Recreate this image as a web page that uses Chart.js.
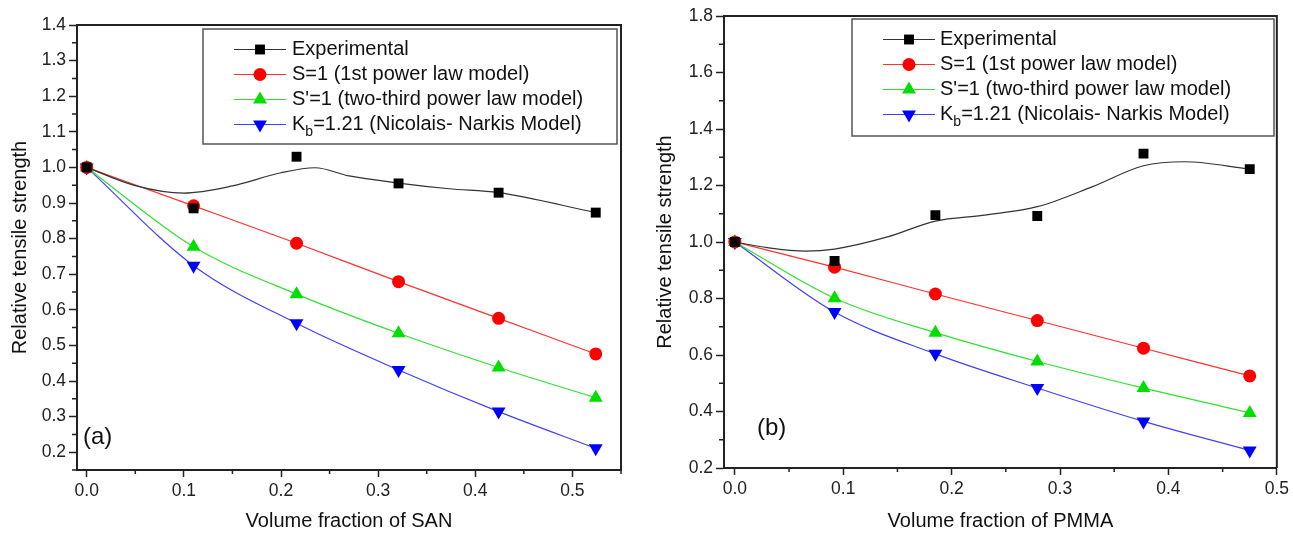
<!DOCTYPE html>
<html>
<head>
<meta charset="utf-8">
<script src="https://cdn.jsdelivr.net/npm/chart.js@4.4.0/dist/chart.umd.min.js"></script>
<style>
  body { margin: 0; background: #fff; }
  #wrap { position: relative; width: 1293px; height: 533px; }
  .box { position: absolute; top: 0; height: 533px; }
  #boxA { left: 0; width: 645px; }
  #boxB { left: 645px; width: 648px; }
</style>
</head>
<body>
<div id="wrap">
  <div class="box" id="boxA"><canvas id="chartA"></canvas></div>
  <div class="box" id="boxB"><canvas id="chartB"></canvas></div>
</div>
<script>
// ---- (a) SAN ----
const sanX      = [0, 0.110, 0.216, 0.321, 0.424, 0.524];
const sanExp    = [1.0, 0.885, 1.030, 0.955, 0.929, 0.873];
const sanS      = [1.0, 0.892, 0.787, 0.679, 0.576, 0.476];
const sanS23    = [1.0, 0.777, 0.644, 0.534, 0.438, 0.353];
const sanKb     = [1.0, 0.724, 0.562, 0.431, 0.314, 0.211];
// smoothed curve drawn through the experimental points
const sanFitX   = [0, 0.05, 0.10, 0.15, 0.20, 0.235, 0.27, 0.321, 0.373, 0.424, 0.524];
const sanFitY   = [1.0, 0.949, 0.928, 0.948, 0.985, 0.999, 0.976, 0.956, 0.940, 0.929, 0.873];
const sanYTicks = [0.2, 0.3, 0.4, 0.5, 0.6, 0.7, 0.8, 0.9, 1.0, 1.1, 1.2, 1.3, 1.4];
const sanYMinor = [0.15, 0.25, 0.35, 0.45, 0.55, 0.65, 0.75, 0.85, 0.95, 1.05, 1.15, 1.25, 1.35];
const sanXTicks = [0, 0.1, 0.2, 0.3, 0.4, 0.5];
const sanXMinor = [0.05, 0.15, 0.25, 0.35, 0.45, 0.55];

// ---- (b) PMMA ----
const pmmaX      = [0, 0.092, 0.185, 0.279, 0.377, 0.475];
const pmmaExp    = [1.0, 0.933, 1.095, 1.092, 1.313, 1.258];
const pmmaS      = [1.0, 0.911, 0.816, 0.722, 0.624, 0.526];
const pmmaS23    = [1.0, 0.801, 0.679, 0.577, 0.483, 0.395];
const pmmaKb     = [1.0, 0.752, 0.604, 0.483, 0.365, 0.262];
const pmmaFitX   = [0, 0.03, 0.065, 0.092, 0.14, 0.185, 0.23, 0.279, 0.33, 0.377, 0.415, 0.475];
const pmmaFitY   = [1.0, 0.980, 0.968, 0.975, 1.017, 1.074, 1.095, 1.125, 1.196, 1.270, 1.284, 1.258];
const pmmaYTicks = [0.2, 0.4, 0.6, 0.8, 1.0, 1.2, 1.4, 1.6, 1.8];
const pmmaYMinor = [0.3, 0.5, 0.7, 0.9, 1.1, 1.3, 1.5, 1.7];
const pmmaXTicks = [0, 0.1, 0.2, 0.3, 0.4, 0.5];
const pmmaXMinor = [0.05, 0.15, 0.25, 0.35, 0.45];

const legendLabels = [
  'Experimental',
  'S=1 (1st power law model)',
  "S'=1 (two-third power law model)",
  'K_b=1.21 (Nicolais- Narkis Model)'
];

const FONT = "'Liberation Sans', Arial, Helvetica, sans-serif";
const INK = '#222';

const zip = (xs, ys) => xs.map((x, i) => ({ x: x, y: ys[i] }));

function drawMarker(ctx, style, x, y) {
  ctx.fillStyle = style.color;
  ctx.beginPath();
  const r = style.radius;
  if (style.shape === 'rect') {
    const s = r * Math.SQRT1_2;
    ctx.rect(x - s, y - s, 2 * s, 2 * s);
  } else if (style.shape === 'circle') {
    ctx.arc(x, y, r, 0, Math.PI * 2);
  } else {
    const dir = style.shape === 'down' ? -1 : 1;
    ctx.moveTo(x, y - dir * r);
    ctx.lineTo(x + r * 0.866, y + dir * r * 0.5);
    ctx.lineTo(x - r * 0.866, y + dir * r * 0.5);
    ctx.closePath();
  }
  ctx.fill();
}

const markerStyles = [
  { shape: 'rect', radius: 7, color: '#000', line: '#333' },
  { shape: 'circle', radius: 6.5, color: '#ff0000', line: '#ff3030' },
  { shape: 'up', radius: 8, color: '#00e000', line: '#30e030' },
  { shape: 'down', radius: 8, color: '#0000ff', line: '#4040ff' }
];

const decorPlugin = {
  id: 'decor',
  afterDraw(chart, args, o) {
    const { ctx, chartArea: a, scales } = chart;
    const x = scales.x, y = scales.y;
    ctx.save();
    // top and right frame
    ctx.strokeStyle = INK;
    ctx.lineWidth = 2;
    ctx.beginPath();
    ctx.moveTo(a.left, a.top);
    ctx.lineTo(a.right, a.top);
    ctx.lineTo(a.right, a.bottom);
    ctx.stroke();
    // minor ticks
    ctx.lineWidth = 1.5;
    ctx.beginPath();
    o.yMinor.forEach(v => {
      const py = y.getPixelForValue(v);
      ctx.moveTo(a.left - 5, py); ctx.lineTo(a.left, py);
    });
    o.xMinor.forEach(v => {
      const px = x.getPixelForValue(v);
      ctx.moveTo(px, a.bottom); ctx.lineTo(px, a.bottom + 4);
    });
    ctx.stroke();

    // legend box
    const b = o.legend;
    ctx.strokeStyle = '#555';
    ctx.lineWidth = 1.5;
    ctx.strokeRect(b.x1, b.y1, b.x2 - b.x1, b.y2 - b.y1);
    ctx.font = '20px ' + FONT;
    ctx.textBaseline = 'middle';
    legendLabels.forEach((lab, i) => {
      const ry = b.row0 + i * b.rowGap;
      const st = markerStyles[i];
      ctx.strokeStyle = st.line;
      ctx.lineWidth = 1.2;
      ctx.beginPath();
      ctx.moveTo(b.lineX1, ry); ctx.lineTo(b.lineX2, ry);
      ctx.stroke();
      drawMarker(ctx, st, (b.lineX1 + b.lineX2) / 2, ry);
      ctx.fillStyle = '#111';
      const m = lab.match(/^(.*?)_(\w)(.*)$/);
      if (m) {
        let tx = b.textX;
        ctx.fillText(m[1], tx, ry);
        tx += ctx.measureText(m[1]).width;
        ctx.font = '14px ' + FONT;
        ctx.fillText(m[2], tx, ry + 8);
        tx += ctx.measureText(m[2]).width;
        ctx.font = '20px ' + FONT;
        ctx.fillText(m[3], tx, ry);
      } else {
        ctx.fillText(lab, b.textX, ry);
      }
    });

    // panel letter
    ctx.font = '24px ' + FONT;
    ctx.fillStyle = '#111';
    ctx.fillText(o.panel.text, o.panel.x, o.panel.y);
    ctx.restore();
  }
};

function makeChart(id, d) {
  const datasets = [
    {
      data: zip(d.x, d.exp), showLine: false,
      pointStyle: 'rect', pointRadius: 7, pointBorderWidth: 0,
      pointBackgroundColor: '#000', borderColor: '#000'
    },
    {
      data: zip(d.fitX, d.fitY), showLine: true, pointRadius: 0,
      borderColor: '#333', borderWidth: 1.2, cubicInterpolationMode: 'monotone'
    },
    {
      data: zip(d.x, d.s), showLine: true, borderColor: '#ff3030', borderWidth: 1.2,
      cubicInterpolationMode: 'monotone',
      pointStyle: 'circle', pointRadius: 6.5, pointBorderWidth: 0, pointBackgroundColor: '#ff0000'
    },
    {
      data: zip(d.x, d.s23), showLine: true, borderColor: '#30e030', borderWidth: 1.2,
      cubicInterpolationMode: 'monotone',
      pointStyle: 'triangle', pointRadius: 8, pointBorderWidth: 0, pointBackgroundColor: '#00e000'
    },
    {
      data: zip(d.x, d.kb), showLine: true, borderColor: '#4040ff', borderWidth: 1.2,
      cubicInterpolationMode: 'monotone',
      pointStyle: 'triangle', pointRotation: 180, pointRadius: 8, pointBorderWidth: 0,
      pointBackgroundColor: '#0000ff'
    }
  ];

  return new Chart(document.getElementById(id), {
    type: 'scatter',
    data: { datasets: datasets },
    plugins: [decorPlugin],
    options: {
      responsive: true,
      maintainAspectRatio: false,
      animation: false,
      layout: { padding: { left: 0, top: d.top, right: d.right, bottom: 0 } },
      plugins: {
        legend: { display: false },
        tooltip: { enabled: false },
        decor: { yMinor: d.yMinor, xMinor: d.xMinor, legend: d.legend, panel: d.panel }
      },
      scales: {
        x: {
          type: 'linear', min: d.xMin, max: d.xMax,
          afterFit: s => { s.height = d.xAxisH; },
          afterBuildTicks: s => { s.ticks = d.xTicks.map(v => ({ value: v })); },
          ticks: { callback: v => v.toFixed(1), color: INK, padding: 4, maxRotation: 0,
                   font: { family: FONT, size: 17.5 } },
          grid: { drawOnChartArea: false, drawTicks: true, tickLength: 7, tickColor: INK, tickWidth: 1.5 },
          border: { display: true, color: INK, width: 2 },
          title: { display: true, text: d.xTitle, color: '#111', padding: { top: 0, bottom: 0 },
                   font: { family: FONT, size: 20 } }
        },
        y: {
          type: 'linear', min: d.yMin, max: d.yMax,
          afterFit: s => { s.width = d.yAxisW; },
          afterBuildTicks: s => { s.ticks = d.yTicks.map(v => ({ value: v })); },
          ticks: { callback: v => v.toFixed(1), color: INK, padding: 3,
                   font: { family: FONT, size: 17.5 } },
          grid: { drawOnChartArea: false, drawTicks: true, tickLength: 8, tickColor: INK, tickWidth: 1.5 },
          border: { display: true, color: INK, width: 2 },
          title: { display: true, text: 'Relative tensile strength', color: '#111',
                   padding: { top: 8, bottom: 0 }, font: { family: FONT, size: 20 } }
        }
      }
    }
  });
}

makeChart('chartA', {
  x: sanX, exp: sanExp, s: sanS, s23: sanS23, kb: sanKb, fitX: sanFitX, fitY: sanFitY,
  xTicks: sanXTicks, xMinor: sanXMinor, yTicks: sanYTicks, yMinor: sanYMinor,
  xMin: -0.01, xMax: 0.55, yMin: 0.15, yMax: 1.4,
  xTitle: 'Volume fraction of SAN',
  top: 25, right: 24, yAxisW: 77, xAxisH: 63,
  legend: { x1: 203, y1: 29, x2: 617, y2: 144, row0: 49.5, rowGap: 25, lineX1: 234, lineX2: 286, textX: 292 },
  panel: { text: '(a)', x: 83, y: 437 }
});

makeChart('chartB', {
  x: pmmaX, exp: pmmaExp, s: pmmaS, s23: pmmaS23, kb: pmmaKb, fitX: pmmaFitX, fitY: pmmaFitY,
  xTicks: pmmaXTicks, xMinor: pmmaXMinor, yTicks: pmmaYTicks, yMinor: pmmaYMinor,
  xMin: -0.01, xMax: 0.5, yMin: 0.2, yMax: 1.8,
  xTitle: 'Volume fraction of PMMA',
  top: 16, right: 13, yAxisW: 79, xAxisH: 65,
  legend: { x1: 207, y1: 19, x2: 629, y2: 136, row0: 39.5, rowGap: 25, lineX1: 238, lineX2: 290, textX: 295 },
  panel: { text: '(b)', x: 112, y: 428 }
});
</script>
</body>
</html>
